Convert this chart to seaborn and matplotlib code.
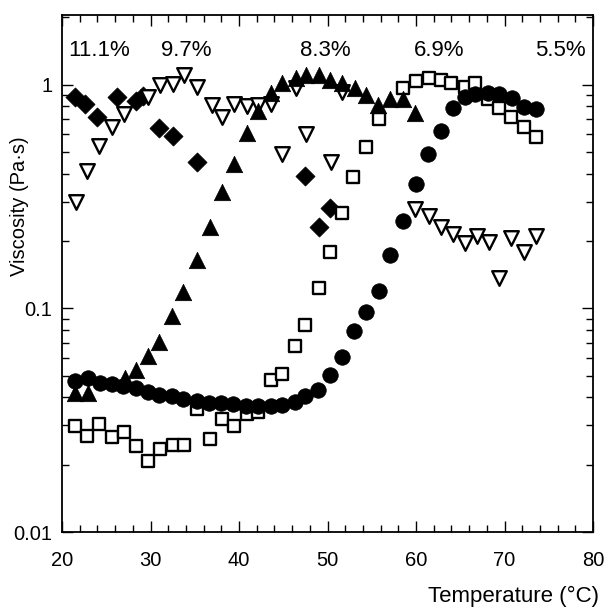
import matplotlib
matplotlib.use("Agg")
import matplotlib.pyplot as plt
import matplotlib.ticker as mticker
import seaborn as sns

# 11.1% - filled diamonds
t_dia = [21.5, 22.6, 24.0, 26.2, 28.4, 29.1, 31.0, 32.5, 35.2, 47.5, 49.0, 50.3]
v_dia = [0.88, 0.82, 0.72, 0.88, 0.85, 0.89, 0.64, 0.59, 0.45, 0.39, 0.23, 0.28]

# 9.7% - open down triangles
t_tri = [21.6, 22.8, 24.2, 25.6, 27.0, 29.7, 31.1, 32.5, 33.8, 35.2, 36.9, 38.1,
         39.4, 40.9, 42.2, 43.6, 44.9, 46.4, 47.6, 50.4, 51.6, 59.9, 61.5, 62.8,
         64.2, 65.5, 66.9, 68.2, 69.4, 70.7, 72.2, 73.6]
v_tri = [0.30, 0.41, 0.53, 0.65, 0.74, 0.88, 1.0, 1.01, 1.11, 0.98, 0.81, 0.72,
         0.82, 0.80, 0.81, 0.82, 0.49, 0.97, 0.60, 0.45, 0.93, 0.277, 0.26, 0.232,
         0.214, 0.195, 0.21, 0.199, 0.137, 0.207, 0.178, 0.21]

# 8.3% - filled up triangles
t_up = [21.5, 22.9, 27.1, 28.4, 29.7, 31.0, 32.4, 33.7, 35.2, 36.7, 38.1, 39.4,
        40.9, 42.2, 43.6, 44.9, 46.4, 47.6, 49.0, 50.3, 51.6, 53.1, 54.4, 55.7,
        57.1, 58.5, 59.9]
v_up = [0.042, 0.042, 0.049, 0.053, 0.061, 0.071, 0.092, 0.118, 0.164, 0.23, 0.33, 0.444,
        0.61, 0.76, 0.92, 1.02, 1.075, 1.10, 1.11, 1.05, 1.02, 0.97, 0.90, 0.81,
        0.86, 0.86, 0.75]

# 6.9% - open squares
t_sq = [21.5, 22.8, 24.2, 25.6, 27.0, 28.4, 29.7, 31.1, 32.5, 33.8, 35.2, 36.7,
        38.1, 39.4, 40.9, 42.2, 43.6, 44.9, 46.3, 47.5, 49.0, 50.3, 51.6, 52.9,
        54.4, 55.8, 58.5, 60.0, 61.5, 62.8, 64.0, 65.5, 66.7, 68.1, 69.4, 70.7,
        72.2, 73.6]
v_sq = [0.0297, 0.0268, 0.0303, 0.0266, 0.0279, 0.0242, 0.0207, 0.0235, 0.0245, 0.0245,
        0.0354, 0.026, 0.0319, 0.0297, 0.0336, 0.0343, 0.0477, 0.0507, 0.0676, 0.0839,
        0.123, 0.178, 0.268, 0.388, 0.529, 0.705, 0.97, 1.04, 1.075, 1.05, 1.02, 0.98,
        1.02, 0.86, 0.79, 0.72, 0.65, 0.586]

# 5.5% - filled circles
t_ci = [21.5, 22.9, 24.3, 25.6, 26.9, 28.4, 29.7, 31.0, 32.4, 33.7, 35.2, 36.6,
        38.0, 39.3, 40.8, 42.2, 43.6, 44.9, 46.3, 47.5, 48.9, 50.3, 51.6, 53.0,
        54.4, 55.8, 57.1, 58.5, 60.0, 61.3, 62.8, 64.2, 65.5, 66.7, 68.1, 69.4,
        70.9, 72.2, 73.6]
v_ci = [0.0472, 0.0487, 0.0463, 0.0458, 0.0449, 0.044, 0.0422, 0.0409, 0.0405, 0.0392,
        0.0385, 0.0377, 0.0377, 0.0373, 0.0365, 0.0365, 0.0365, 0.0369, 0.038, 0.0405,
        0.043, 0.0502, 0.0604, 0.0789, 0.096, 0.120, 0.173, 0.247, 0.361, 0.492,
        0.623, 0.789, 0.884, 0.912, 0.92, 0.912, 0.875, 0.797, 0.78]

conc_labels = ["11.1%", "9.7%", "8.3%", "6.9%", "5.5%"]
conc_x = [24.2, 34.0, 49.8, 62.6, 76.3]

sns.set_style("ticks")
plt.rcParams['font.family'] = ['Liberation Sans', 'DejaVu Sans']
plt.rcParams['text.color'] = 'black'
plt.rcParams['axes.labelcolor'] = 'black'
plt.rcParams['xtick.color'] = 'black'
plt.rcParams['ytick.color'] = 'black'

fig = plt.figure(figsize=(6.05, 6.12), dpi=100)
ax = fig.add_axes([0.1025, 0.1307, 0.8777, 0.8448])

sns.scatterplot(x=t_dia, y=v_dia, marker='D', color='black', s=95, edgecolor='black', linewidth=0.5, ax=ax)
sns.scatterplot(x=t_sq, y=v_sq, marker='s', facecolor='white', edgecolor='black', s=80, linewidth=1.7, ax=ax)
sns.scatterplot(x=t_tri, y=v_tri, marker='v', facecolor='white', edgecolor='black', s=110, linewidth=1.7, ax=ax)
sns.scatterplot(x=t_up, y=v_up, marker='^', color='black', s=140, edgecolor='black', linewidth=0.5, ax=ax)
sns.scatterplot(x=t_ci, y=v_ci, marker='o', color='black', s=125, edgecolor='black', linewidth=0.5, ax=ax)

ax.set_yscale('log')
ax.set_xlim(20, 80)
ax.set_ylim(0.01, 2.05)
ax.set_xticks([20, 30, 40, 50, 60, 70, 80])
ax.xaxis.set_minor_locator(mticker.MultipleLocator(2))
ax.set_yticks([0.01, 0.1, 1])
ax.set_yticklabels(['0.01', '0.1', '1'])
ax.yaxis.set_minor_locator(mticker.LogLocator(base=10, subs=range(2, 10)))
ax.yaxis.set_minor_formatter(mticker.NullFormatter())

ax.tick_params(which='both', direction='in', top=True, right=True, labelsize=14.5, color='black', width=1)
ax.tick_params(which='major', length=8)
ax.tick_params(which='minor', length=5)
ax.tick_params(axis='x', which='major', pad=14)
ax.tick_params(axis='y', which='major', pad=7)
for sp in ax.spines.values():
    sp.set_linewidth(1.3)
    sp.set_color('black')

for lab, x in zip(conc_labels, conc_x):
    ax.text(x, 1.42, lab, ha='center', va='center', fontsize=16)

ax.set_xlabel('Temperature (°C)', fontsize=16, ha='right')
ax.xaxis.set_label_coords(1.012, -0.105)
ax.set_ylabel('Viscosity (Pa·s)', fontsize=14.5)
ax.yaxis.set_label_coords(-0.062, 0.63)

fig.savefig('out.png', dpi=100)
